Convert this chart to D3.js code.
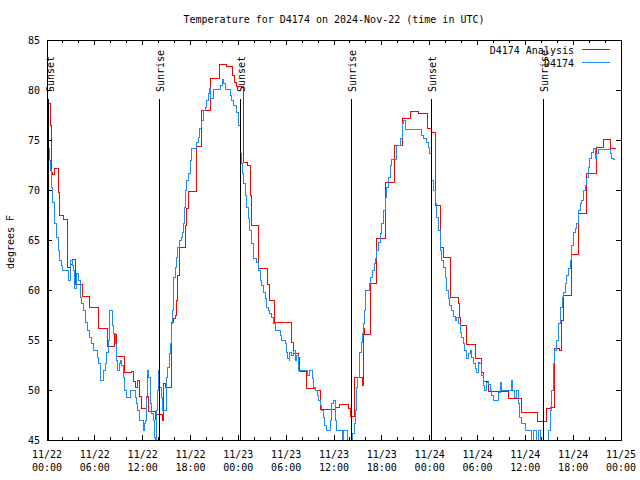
<!DOCTYPE html>
<html><head><meta charset="utf-8">
<script src="https://cdn.jsdelivr.net/npm/d3@7"></script>
<style>
body{margin:0;background:#fff;}
svg{display:block;}
text{font-family:"DejaVu Sans Mono","Liberation Mono",monospace;font-size:10px;fill:#000;}
</style></head>
<body>
<svg id="chart" width="640" height="480"></svg>
<script>
// ---- data (hours after 2024-11-22 00:00 UTC, degrees F) ----
const chartTitle = "Temperature for D4174 on 2024-Nov-22 (time in UTC)";
const yLabel = "degrees F";
const seriesNames = ["D4174 Analysis", "D4174"];
const seriesColors = ["#ff0000", "#1a8cff"];
const yTicks = [45, 50, 55, 60, 65, 70, 75, 80, 85];
const xTickHours = [0, 6, 12, 18, 24, 30, 36, 42, 48, 54, 60, 66, 72];

const analysisHours = [0.1,0.41,0.56,0.75,1.00,1.42,1.54,2.01,2.63,2.95,3.26,3.55,4.43,5.39,6.52,7.53,8.49,8.66,9.66,10.54,10.79,11.04,11.38,11.63,11.88,12.51,12.79,13.55,13.76,14.43,14.59,14.89,15.64,15.84,16.06,16.27,16.43,16.60,16.68,17.35,17.56,17.78,18.78,19.44,20.48,21.64,22.54,23.33,23.58,23.83,24.62,25.21,25.55,25.68,26.51,27.64,27.85,28.51,30.73,30.98,31.49,31.61,32.58,33.62,34.33,36.25,36.75,37.80,38.10,38.60,39.55,39.68,39.80,40.52,41.36,42.52,43.53,44.53,45.54,46.66,47.79,48.17,48.67,49.36,49.71,50.62,51.59,51.74,51.81,52.65,53.69,54.44,54.73,55.44,57.83,59.58,61.47,62.68,63.18,63.72,64.29,64.56,64.85,65.79,66.73,67.68,68.87,69.75,70.69,71.38];
const analysisTemps = [78.7,76.5,71.8,71.6,72.2,69.8,67.5,67.1,62.3,62.6,63.1,60.6,59.4,58.3,56.2,54.4,55.6,53.4,51.8,51.9,50.9,50.3,51.0,49.4,48.2,49.4,47.9,47.1,47.6,47.0,50.7,50.3,56.8,57.2,57.5,59.0,61.5,63.8,64.3,66.5,68.2,69.9,74.4,78.0,81.2,82.6,82.4,81.5,80.8,80.4,72.8,72.5,69.5,66.5,62.2,60.6,59.0,56.8,54.8,53.7,53.3,51.9,50.2,50.0,48.1,48.3,48.6,48.2,47.4,51.3,50.5,56.2,55.6,60.7,65.2,70.8,74.5,77.2,77.9,77.7,76.2,75.8,68.5,64.3,63.3,59.3,58.7,57.3,56.5,54.6,53.2,51.8,50.9,49.9,49.2,47.8,46.9,48.2,48.3,54.2,54.0,57.0,59.5,63.6,67.7,71.7,74.3,75.1,74.2,74.2];

const obsHours = [0.04,0.16,0.25,0.34,0.38,0.59,0.72,0.88,1.00,1.22,1.42,1.54,1.84,1.97,2.67,2.97,3.14,3.30,3.51,3.73,3.93,4.14,4.35,4.55,4.77,4.89,5.02,5.39,5.61,5.81,6.31,6.44,6.65,6.77,7.06,7.28,7.49,7.69,7.81,7.90,8.24,8.32,8.53,8.74,8.82,9.07,9.16,9.37,9.57,9.78,9.99,10.50,11.04,11.25,11.38,11.58,12.08,12.21,12.38,12.51,12.63,12.79,12.92,13.13,13.33,13.46,13.59,13.76,13.84,13.96,14.09,14.30,14.51,14.93,15.09,15.34,15.52,15.64,15.77,15.84,15.93,16.14,16.27,16.40,16.60,16.90,17.02,17.10,17.22,17.35,17.52,17.72,17.94,18.03,18.15,18.78,18.98,19.19,19.41,19.61,19.82,20.03,20.23,20.36,20.57,20.86,21.79,21.99,22.12,22.33,22.96,23.17,23.37,23.80,24.00,24.21,24.30,24.42,24.55,24.62,24.84,25.05,25.25,25.46,25.68,25.88,26.31,26.51,26.72,26.93,27.13,27.35,27.56,27.76,27.97,28.19,28.39,28.60,29.23,29.44,29.86,29.98,30.14,30.36,30.48,30.70,30.90,31.11,31.32,31.52,32.15,32.65,32.87,33.28,33.41,33.74,33.91,34.03,34.25,34.46,34.66,34.87,35.09,35.50,35.71,35.91,36.13,36.25,36.34,37.09,37.17,37.67,37.92,38.22,38.35,38.51,38.64,38.76,38.85,38.98,39.18,39.26,39.39,39.55,39.68,39.80,39.89,40.01,40.43,40.64,40.86,41.02,41.23,41.36,41.56,41.77,41.99,42.19,42.40,42.61,42.81,43.03,43.24,43.78,44.28,44.62,44.78,44.97,47.00,47.20,47.63,47.83,48.04,48.17,48.26,48.46,48.67,48.88,49.08,49.30,49.51,49.71,49.93,50.14,50.34,50.55,50.76,50.96,51.18,51.39,51.59,51.81,52.02,52.22,52.43,52.65,52.85,53.06,53.27,53.47,53.69,53.90,54.10,54.31,54.53,54.73,54.94,55.16,55.36,55.57,55.78,55.98,56.61,56.83,56.95,58.21,58.33,58.70,58.92,59.12,59.33,59.55,59.96,60.80,61.01,61.43,61.63,61.84,61.97,62.68,62.89,63.10,63.31,63.51,63.72,63.94,64.14,64.35,64.44,64.60,64.77,64.98,65.19,65.39,65.61,65.82,66.02,66.23,66.45,66.65,66.86,67.07,67.28,67.49,67.70,67.91,68.11,68.33,68.53,68.74,68.95,69.15,70.71,70.84,71.04,71.25];
const obsTemps = [76.0,75.0,74.2,73.0,72.0,70.3,68.8,67.7,66.7,65.3,64.0,63.0,62.5,62.0,61.0,63.0,62.5,62.0,60.2,61.7,61.0,59.3,58.7,58.0,57.3,56.8,56.0,55.3,54.7,54.0,53.3,52.7,51.3,51.0,52.0,52.7,53.8,55.0,56.7,58.0,56.5,55.7,54.7,53.0,52.0,52.7,53.0,52.5,51.3,50.0,49.3,50.0,49.3,48.7,48.0,47.0,46.0,46.7,47.0,49.3,52.0,51.3,48.7,47.7,47.0,45.3,45.0,48.0,50.0,52.0,50.3,49.3,48.0,51.3,52.3,53.7,54.7,56.7,58.0,59.7,61.3,62.3,63.3,64.3,65.0,65.3,65.8,66.7,68.3,70.0,71.0,71.7,72.0,73.0,74.2,74.8,75.3,76.2,77.0,78.0,78.3,79.0,79.7,80.2,79.2,80.1,80.5,81.1,80.7,80.1,79.5,79.0,78.5,77.8,76.5,74.7,73.7,72.7,71.7,70.7,69.5,68.3,67.2,66.0,64.7,63.2,62.8,62.0,61.0,60.5,59.8,59.2,58.3,58.0,57.7,57.3,56.7,56.0,55.5,55.0,54.7,53.8,53.2,53.0,53.8,53.5,54.0,53.0,53.5,52.0,52.0,51.5,52.0,51.2,50.3,50.0,49.5,49.0,48.5,48.0,47.3,46.5,46.0,47.0,48.7,49.0,48.0,47.0,46.0,45.0,46.0,45.0,44.6,45.0,45.7,46.7,48.0,49.3,50.3,51.3,51.8,53.8,54.8,55.7,56.7,58.0,59.0,60.0,60.7,61.3,62.0,62.7,63.2,64.0,64.8,65.7,66.7,68.0,69.3,70.3,71.3,72.5,73.1,74.5,75.2,76.7,77.0,76.1,75.5,75.2,74.8,74.3,73.7,72.0,71.0,70.0,68.7,67.3,66.0,64.0,63.0,62.3,61.3,60.0,59.2,58.5,58.0,57.4,57.0,57.3,56.7,55.8,55.3,54.7,54.0,53.2,53.7,54.0,53.3,52.7,52.2,51.8,52.8,52.7,51.5,50.5,50.0,50.8,50.6,50.0,49.5,49.0,49.8,50.8,50.0,51.0,50.0,49.3,50.0,48.7,47.3,46.7,46.0,45.0,46.0,45.0,46.0,45.0,44.6,45.0,46.0,48.0,50.0,52.7,54.0,55.0,56.7,58.0,58.3,59.3,59.8,60.7,61.5,62.2,63.0,64.5,65.8,66.2,66.7,68.0,68.7,69.0,70.0,70.5,71.3,72.3,73.2,73.8,74.2,73.2,73.7,74.1,73.7,73.2,73.1,73.1];

const sunEventHours = [0.21, 14.09, 24.25, 38.17, 48.21, 62.26];
const sunEventNames = ["Sunset", "Sunrise", "Sunset", "Sunrise", "Sunset", "Sunrise"];

// ---- drawing ----
const t0 = Date.UTC(2024, 10, 22, 0, 0);
const toDate = h => new Date(t0 + h * 3600e3);
const svg = d3.select("#chart");
const L = 47, R = 621, T = 40, B = 440;

const x = d3.scaleUtc().domain([toDate(0), toDate(72)]).range([L, R]);
const y = d3.scaleLinear().domain([45, 85]).range([B, T]);

svg.append("defs").append("clipPath").attr("id", "clip")
  .append("rect").attr("x", L).attr("y", T).attr("width", R - L).attr("height", B - T);

// title
svg.append("text").attr("x", (L + R) / 2).attr("y", 23).attr("text-anchor", "middle").text(chartTitle);
// y label
svg.append("text").attr("transform", "translate(14,242) rotate(-90)").attr("text-anchor", "middle").text(yLabel);

// data lines
const seriesData = [
  analysisHours.map((h, i) => ({d: toDate(h), v: analysisTemps[i]})),
  obsHours.map((h, i) => ({d: toDate(h), v: obsTemps[i]}))
];
const line = d3.line().x(p => x(p.d)).y(p => y(p.v)).curve(d3.curveStepAfter);
const gData = svg.append("g").attr("clip-path", "url(#clip)");
[0, 1].forEach(i => {
  gData.append("path").attr("d", line(seriesData[i])).attr("fill", "none")
    .attr("stroke", seriesColors[i]).attr("stroke-width", 1).attr("shape-rendering", "crispEdges");
});

// sun events
sunEventHours.forEach((h, i) => {
  const xs = x(toDate(h));
  svg.append("line").attr("x1", xs).attr("x2", xs).attr("y1", 99).attr("y2", B)
    .attr("stroke", "#000").attr("stroke-width", 1).attr("shape-rendering", "crispEdges");
  svg.append("text").attr("transform", `translate(${xs + 5},92) rotate(-90)`)
    .attr("text-anchor", "start").text(sunEventNames[i]);
});

// axes
const fmtDay = d3.utcFormat("%m/%d"), fmtTime = d3.utcFormat("%H:%M");
const majorDates = xTickHours.map(toDate);
const minorDates = d3.range(0, 73, 2).filter(h => h % 6 !== 0).map(toDate);
const axisG = svg.append("g").attr("shape-rendering", "crispEdges");

function ticksX(yBase, dir) {
  axisG.selectAll(null).data(majorDates).enter().append("line")
    .attr("x1", d => x(d)).attr("x2", d => x(d)).attr("y1", yBase).attr("y2", yBase + dir * 5)
    .attr("stroke", "#000");
  axisG.selectAll(null).data(minorDates).enter().append("line")
    .attr("x1", d => x(d)).attr("x2", d => x(d)).attr("y1", yBase).attr("y2", yBase + dir * 3)
    .attr("stroke", "#000");
}
ticksX(B, -1); ticksX(T, 1);
function ticksY(xBase, dir) {
  axisG.selectAll(null).data(yTicks).enter().append("line")
    .attr("x1", xBase).attr("x2", xBase + dir * 5).attr("y1", d => y(d)).attr("y2", d => y(d))
    .attr("stroke", "#000");
}
ticksY(L, 1); ticksY(R, -1);

axisG.append("rect").attr("x", L).attr("y", T).attr("width", R - L).attr("height", B - T)
  .attr("fill", "none").attr("stroke", "#000");

// x tick labels
const xl = svg.append("g");
majorDates.forEach(d => {
  const t = xl.append("text").attr("text-anchor", "middle");
  t.append("tspan").attr("x", x(d)).attr("y", 458).text(fmtDay(d));
  t.append("tspan").attr("x", x(d)).attr("y", 471).text(fmtTime(d));
});
// y tick labels
yTicks.forEach(v => {
  svg.append("text").attr("x", 40).attr("y", y(v) + 3.5).attr("text-anchor", "end").text(v);
});

// legend
seriesNames.forEach((n, i) => {
  const yy = 50 + i * 13;
  svg.append("text").attr("x", 574).attr("y", yy + 3.5).attr("text-anchor", "end").text(n);
  svg.append("line").attr("x1", 582).attr("x2", 610).attr("y1", yy - 0.5).attr("y2", yy - 0.5)
    .attr("stroke", seriesColors[i]).attr("stroke-width", 1).attr("shape-rendering", "crispEdges");
});
</script>
</body></html>
